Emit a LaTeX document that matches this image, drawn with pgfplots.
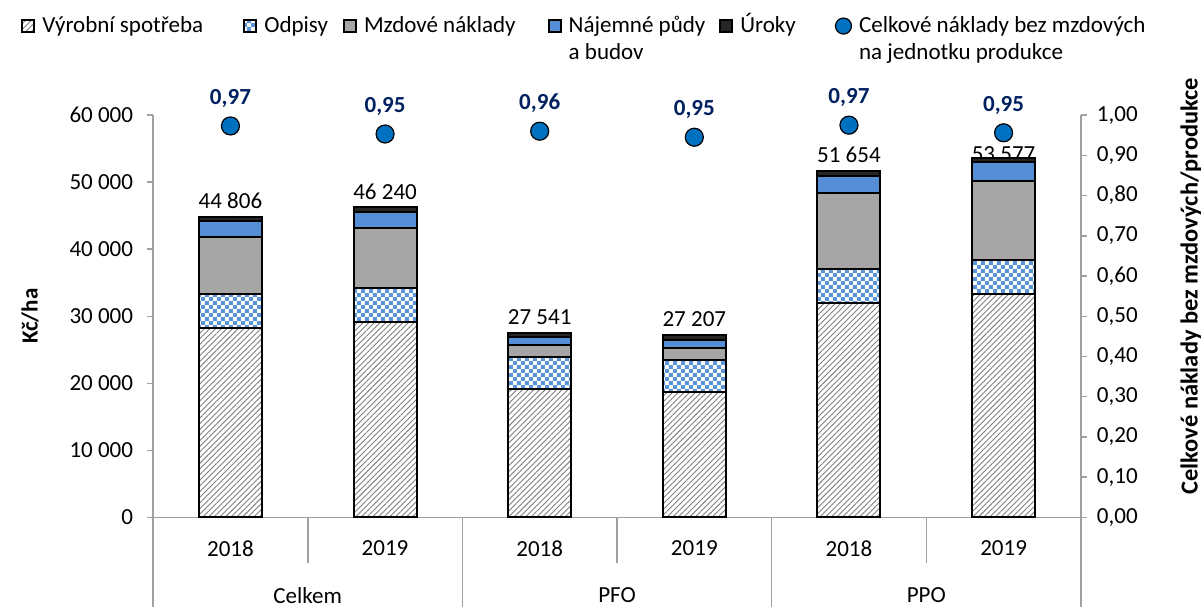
\documentclass[border=0pt,11pt]{standalone}
\usepackage{fontspec}
\setmainfont{Carlito}
\usepackage{pgfplots}
\pgfplotsset{compat=1.18}
\usetikzlibrary{patterns,patterns.meta}

\definecolor{axgray}{HTML}{A0A0A0}
\definecolor{mzd}{HTML}{A6A6A6}
\definecolor{naj}{HTML}{558ED5}
\definecolor{chk}{HTML}{5B95D9}
\definecolor{urok}{HTML}{262626}
\definecolor{hatch}{HTML}{808080}
\definecolor{dotblue}{HTML}{0070C0}
\definecolor{navy}{HTML}{002060}

% small checkerboard like the spreadsheet pattern
\pgfdeclarepatternformonly{smallcheck}{\pgfpointorigin}{\pgfqpoint{4.2pt}{4.2pt}}{\pgfqpoint{4.2pt}{4.2pt}}{%
  \pgfpathrectangle{\pgfpointorigin}{\pgfqpoint{2.1pt}{2.1pt}}%
  \pgfpathrectangle{\pgfqpoint{2.1pt}{2.1pt}}{\pgfqpoint{2.1pt}{2.1pt}}%
  \pgfusepath{fill}}

\pgfplotsset{
  sqlegend/.style={legend image code/.code={\draw[##1] (0pt,0.3pt) rectangle (6pt,6.3pt);}},
  barstyle/.style={draw=black, line width=1pt},
}

\begin{document}
\fontsize{11.5}{13.5}\selectfont
\begin{tikzpicture}
\begin{axis}[
  name=ax,
  width=463.5pt, height=201pt, scale only axis,
  ybar stacked, bar width=31.5pt,
  xmin=-0.5, xmax=5.5, ymin=0, ymax=60000,
  axis x line*=bottom, axis y line*=left,
  axis line style={draw=axgray, line width=0.75pt},
  xtick={0,...,5}, xticklabels={2018,2019,2018,2019,2018,2019},
  x tick style={draw=none},
  xticklabel style={yshift=-4.5pt},
  ytick={0,10000,20000,30000,40000,50000,60000},
  y tick style={draw=axgray, line width=0.75pt},
  tick align=outside, major tick length=3pt,
  scaled y ticks=false,
  /pgf/number format/assume math mode=true,
  /pgf/number format/1000 sep={\ },
  yticklabel style={xshift=-3pt},
  ylabel={\textbf{Kč/ha}},
  ylabel style={at={(rel axis cs:0,0.5)}, anchor=center, yshift=61.5pt},
  clip=false,
  legend style={at={(rel axis cs:0,1)}, anchor=north west, xshift=-66pt, yshift=53pt,
    draw=none, fill=none, inner sep=0pt,
    cells={anchor=base west, inner xsep=0pt},
    /tikz/every odd column/.append style={column sep=1.5pt},
    /tikz/column 2/.style={column sep=18pt},
    /tikz/column 4/.style={column sep=5.5pt},
    /tikz/column 6/.style={column sep=14pt},
    /tikz/column 8/.style={column sep=5pt},
    /tikz/column 10/.style={column sep=17.5pt}},
  legend columns=6,
]
\addplot[barstyle, fill=white, postaction={pattern={Lines[angle=45,distance=2pt,line width=0.45pt]}, pattern color=hatch}, sqlegend]
  coordinates {(0,28250)(1,29150)(2,19210)(3,18700)(4,31990)(5,33280)};
\addlegendentry{Výrobní spotřeba}
\addplot[barstyle, fill=white, postaction={pattern=smallcheck, pattern color=chk}, sqlegend]
  coordinates {(0,5140)(1,5130)(2,4720)(3,4730)(4,5020)(5,5180)};
\addlegendentry{Odpisy}
\addplot[barstyle, fill=mzd, sqlegend]
  coordinates {(0,8450)(1,8900)(2,1740)(3,1890)(4,11300)(5,11690)};
\addlegendentry{Mzdové náklady}
\addplot[barstyle, fill=naj, sqlegend]
  coordinates {(0,2340)(1,2390)(2,1240)(3,1200)(4,2590)(5,2880)};
\addlegendentry{\vtop{\hbox{Nájemné půdy}\hbox{a budov}}}
\addplot[barstyle, fill=urok, sqlegend]
  coordinates {(0,626)(1,670)(2,631)(3,687)(4,754)(5,547)};
\addlegendentry{Úroky}
\addlegendimage{legend image code/.code={\fill[dotblue, draw=black, line width=0.6pt] (4pt,3.3pt) circle (4pt);}}
\addlegendentry{\vtop{\hbox{Celkové náklady bez mzdových}\hbox{na jednotku produkce}}}

% totals above bars
\node[anchor=south] at (axis cs:0,44806) {44 806};
\node[anchor=south] at (axis cs:1,46240) {46 240};
\node[anchor=south] at (axis cs:2,27541) {27 541};
\node[anchor=south] at (axis cs:3,27207) {27 207};
\node[anchor=south] at (axis cs:4,51654) {51 654};
\node[anchor=south, yshift=-6pt] at (axis cs:5,53577) {53 577};

% category separators
\pgfplotsinvokeforeach{-0.5,1.5,3.5,5.5}{\draw[axgray, line width=0.75pt] (axis cs:#1,0) -- ++(0pt,-44.5pt);}
\pgfplotsinvokeforeach{0.5,2.5,4.5}{\draw[axgray, line width=0.75pt] (axis cs:#1,0) -- ++(0pt,-23pt);}
\node at (axis cs:0.5,0) [yshift=-39pt] {Celkem};
\node at (axis cs:2.5,0) [yshift=-39pt] {PFO};
\node at (axis cs:4.5,0) [yshift=-39pt] {PPO};
\end{axis}

\begin{axis}[
  width=463.5pt, height=201pt, scale only axis,
  xmin=-0.5, xmax=5.5, ymin=0, ymax=1,
  axis x line=none, axis y line*=right,
  axis line style={draw=axgray, line width=0.75pt},
  ytick={0,0.1,0.2,0.3,0.4,0.5,0.6,0.7,0.8,0.9,1},
  y tick style={draw=axgray, line width=0.75pt},
  tick align=outside, major tick length=3pt,
  /pgf/number format/assume math mode=true,
  yticklabel style={xshift=1pt, /pgf/number format/.cd, fixed, fixed zerofill, precision=2, use comma},
  ylabel={\fontsize{12.2}{14}\selectfont\textbf{Celkové náklady bez mzdových/produkce}},
  ylabel style={at={(rel axis cs:1,0.575)}, anchor=center, yshift=-55pt},
  clip=false,
]
\addplot[only marks, mark=*, mark size=4.5pt, mark options={fill=dotblue, draw=black, line width=0.6pt},
  point meta=explicit,
  nodes near coords={\textbf{\pgfmathprintnumber[fixed, fixed zerofill, precision=2, use comma]{\pgfplotspointmeta}}},
  every node near coord/.append style={text=navy, yshift=5pt}]
  coordinates {(0,0.973)[0.97] (1,0.953)[0.95] (2,0.96)[0.96] (3,0.945)[0.95] (4,0.975)[0.97] (5,0.956)[0.95]};
\end{axis}

\pgfresetboundingbox
\path ([shift={(-76.5pt,-44.5pt)}]ax.south west) rectangle ([shift={(523.5pt,258.5pt)}]ax.south west);
\end{tikzpicture}
\end{document}
